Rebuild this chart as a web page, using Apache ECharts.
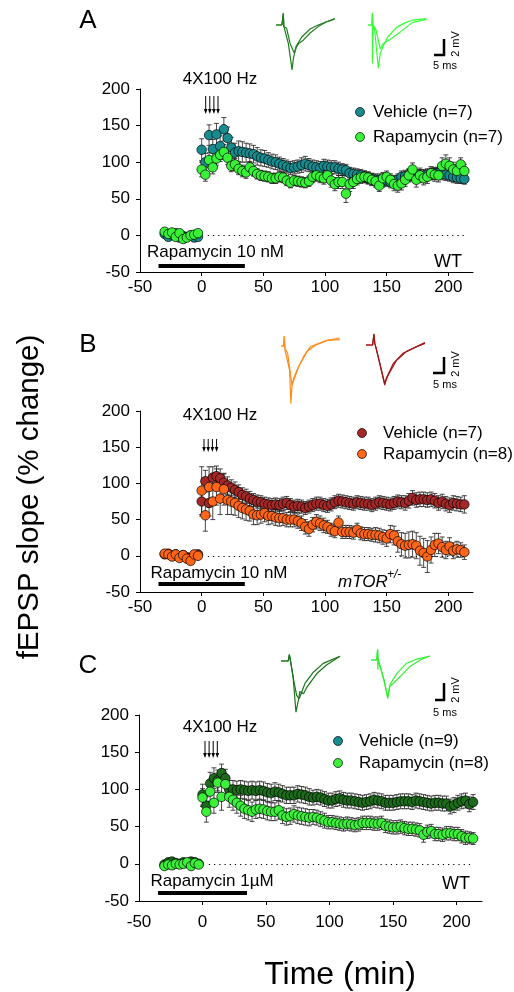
<!DOCTYPE html>
<html><head><meta charset="utf-8">
<script src="https://cdn.jsdelivr.net/npm/echarts@6/dist/echarts.min.js"></script>
<style>html,body{margin:0;padding:0;background:#fff}#c{width:514px;height:992px}</style>
</head><body><div id="c"></div>
<script>
// ---------- data ----------
const xTickLabels = [-50, 0, 50, 100, 150, 200];
const yTickLabels = [-50, 0, 50, 100, 150, 200];
const baseTimes = [-30,-27,-24,-21,-18,-15,-12,-9,-6,-3];
const postTimes = [0,3,6,9,12,15,18,21,24,27,30,33,
  36,39,42,45,48,51,54,57,60,63,66,69,
  72,75,78,81,84,87,90,93,96,99,102,105,
  108,111,114,117,120,123,126,129,132,135,138,141,
  144,147,150,153,156,159,162,165,168,171,174,177,
  180,183,186,189,192,195,198,201,204,207,210,213];
const baseErr = [2,2,2,2,2,2,2,2,2,2];

// Panel A (WT, 10 nM)
const vehA_base = [2,-2,1,3,-3,-1,-2,0,-3,-2];
const vehA = [117,100,137,118,138,122,145,133,120,113,115,114,
  113,112,111,108,106,105,103,101,100,98,96,94,
  92,93,94,96,98,96,94,93,92,95,94,93,
  93,91,90,89,85,84,83,82,80,78,77,76,
  76,74,75,73,74,76,80,81,82,83,82,82,
  82,83,84,85,85,84,83,82,80,79,78,77];
const vehA_err = [15,12,14,13,15,14,16,15,14,13,14,14,
  13,13,12,12,11,11,10,10,10,9,9,9,
  9,9,9,10,10,9,9,9,9,9,9,9,
  9,9,8,8,8,8,8,8,8,8,8,8,
  8,8,8,8,8,8,8,8,8,8,8,8,
  8,8,8,8,8,8,8,8,8,8,7,7];
const rapA_base = [5,2,4,-2,3,-5,-3,0,1,3];
const rapA = [90,83,103,93,105,110,114,106,95,97,91,88,
  86,93,88,84,82,81,80,78,78,80,79,75,
  72,75,74,73,72,74,80,82,80,78,82,75,
  70,73,73,57,70,73,77,79,80,79,76,74,
  68,78,80,76,70,68,71,76,82,90,76,82,
  78,80,85,83,82,95,98,95,90,88,97,88];
const rapA_err = [10,9,10,9,9,9,10,9,8,8,8,8,
  8,8,7,7,7,7,7,7,7,7,7,7,
  7,7,7,7,7,7,8,8,8,8,9,9,
  9,9,9,12,10,9,8,8,8,8,8,8,
  8,8,8,8,9,9,9,9,9,9,10,10,
  9,9,9,9,9,11,12,11,10,9,9,9];

// Panel B (mTOR+/-, 10 nM)
const vehB_base = [2,3,0,2,-1,1,-2,-3,1,2];
const vehB = [75,103,73,108,110,107,101,97,94,91,88,84,
  82,79,77,75,74,72,71,70,71,70,72,73,
  70,68,69,68,66,68,70,72,72,70,69,71,
  74,76,75,74,73,72,74,73,72,72,70,72,
  74,73,72,71,73,75,74,73,76,80,77,78,
  78,77,78,76,73,75,72,70,73,72,71,71];
const vehB_err = [20,15,18,15,14,13,12,12,11,11,10,10,
  10,10,9,9,9,9,9,9,9,9,9,9,
  9,9,9,9,9,9,9,9,9,9,9,9,
  9,9,9,9,9,9,9,9,9,9,9,9,
  9,9,9,9,9,9,9,10,10,10,10,10,
  10,10,10,10,10,10,10,10,10,10,10,12];
const rapB_base = [3,2,-1,2,-3,1,-4,-7,2,0];
const rapB = [90,56,95,75,95,79,92,77,75,73,69,66,
  64,62,57,56,57,59,55,55,53,52,52,50,
  50,50,48,45,40,37,43,47,45,42,40,36,
  34,46,33,33,33,32,36,31,30,30,29,29,
  28,26,24,30,28,20,16,14,15,16,14,7,
  4,-1,8,15,17,12,8,13,7,9,8,5];
const rapB_err = [33,22,28,25,25,22,22,20,18,17,16,15,
  15,14,14,13,12,12,12,11,11,11,10,10,
  10,10,10,10,10,10,10,10,10,10,9,9,
  9,9,9,9,9,9,9,9,9,9,9,10,
  10,10,11,12,13,15,16,17,18,18,18,20,
  20,22,18,16,14,14,12,12,11,11,10,10];

// Panel C (WT, 1 uM)
const vehC_base = [-1,2,3,1,0,2,1,3,2,0];
const vehC = [93,78,108,115,112,122,115,100,100,99,100,99,
  98,99,98,99,98,96,95,97,96,94,92,92,
  92,94,93,92,90,89,90,89,87,85,85,87,
  88,86,85,85,84,83,82,83,84,86,85,84,
  82,82,82,83,84,84,84,83,85,84,83,82,
  81,82,82,81,81,77,79,82,84,85,80,83];
const vehC_err = [14,12,15,14,14,12,12,12,12,12,12,12,
  12,12,12,12,12,12,12,12,11,11,11,11,
  11,11,11,11,11,10,10,10,10,10,10,10,
  10,10,10,10,10,10,10,10,10,10,10,10,
  10,10,10,10,10,10,10,10,10,10,10,10,
  10,10,10,10,10,10,10,10,10,10,10,10];
const rapC_base = [-3,-1,-2,0,-1,0,2,-3,1,-1];
const rapC = [89,70,97,82,109,90,107,90,86,82,78,74,
  72,70,73,74,73,71,70,70,72,65,63,64,
  67,65,64,63,62,63,62,60,58,56,56,55,
  54,53,54,53,52,53,55,55,55,54,54,55,
  51,50,49,49,50,48,47,47,46,45,39,43,
  44,40,40,39,41,41,40,40,37,35,35,34];
const rapC_err = [12,14,13,14,13,18,13,14,14,14,14,13,
  13,13,12,12,12,12,12,12,12,11,11,11,
  11,11,11,11,11,10,10,10,10,9,9,9,
  9,9,9,9,9,9,9,9,9,9,9,9,
  9,9,9,9,9,9,9,9,9,9,10,9,
  9,9,9,9,9,9,9,9,9,9,8,8];

// fEPSP sample traces [ms, mV]
const trA1a = [[0,0],[2.7,0],[3.3,1.5],[3.6,-0.2],[4.5,-0.2],[5.6,-2.3],[7.3,-5.6],[7.9,-4.2],[9.1,-2.7],[11.7,-1.5],[15.5,-0.5],[19.2,0],[23,0.4],[26.8,0.8]];
const trA1b = [[0,0],[2.7,0],[3.3,1.4],[3.6,-0.2],[4.8,-0.4],[6.4,-2.3],[8.3,-3.5],[9.4,-2.7],[10.3,-2.3],[12.4,-1.9],[15.5,-1.0],[19.2,-0.2],[23,0.4],[26.4,0.7]];
const trA2a = [[0,0],[1.8,0],[2.0,1.5],[2.0,-4.8],[2.3,0],[3.0,-0.5],[4.7,-5.4],[5.6,-3.5],[6.8,-2.7],[9,-1.5],[13,-0.3],[17,0.3],[20,0.6],[26.5,0.8]];
const trA2b = [[0,0],[1.8,0],[2.0,1.5],[2.3,0],[3.5,-0.5],[5.6,-3.0],[7,-2.3],[10,-1.8],[15,-0.8],[20,0.3],[26.5,0.7]];
const trB1a = [[0,0],[1.2,0],[1.5,1.2],[1.8,-0.5],[2.7,-0.3],[3.9,-3],[4.5,-7.2],[5,-4.9],[5.8,-4.0],[7.3,-3.0],[10.3,-1.3],[13.3,-0.1],[17,0.3],[20.9,0.7],[26.7,1.0]];
const trB1b = [[0,0],[1.2,0],[1.5,1.2],[1.8,-0.3],[3,-0.9],[5,-4.9],[5.8,-4.3],[8,-2.6],[11.8,-0.7],[15.6,0.1],[20.9,0.7],[26.7,0.8]];
const trB2a = [[0,0],[3,0],[3.6,1.4],[4,0.2],[4.5,-0.3],[6,-2],[8.5,-5],[9.2,-4.2],[12.4,-2.3],[17,-1.0],[21.5,-0.4],[26.8,0.3]];
const trB2b = [[0,0],[3,0],[3.6,1.3],[4,0.2],[4.5,-0.3],[6,-2],[8.5,-4.8],[10,-3.8],[13.9,-1.9],[18.5,-0.8],[23,-0.2],[26.8,0.2]];
const trC1a = [[0,0],[3.3,0],[3.8,0.8],[4.4,-0.1],[5.5,-2],[6.8,-6.4],[7.9,-4.9],[8.6,-3.8],[9.4,-3.7],[10.2,-4.1],[11.7,-3.3],[16.2,-1.6],[20.7,-0.5],[26.8,0.6]];
const trC1b = [[0,0],[3.3,0],[3.8,0.8],[4.4,-0.1],[5.5,-2],[7.1,-4.3],[8.3,-4.7],[9.4,-3.9],[10.9,-2.8],[14.7,-1.4],[19.2,-0.3],[26.8,0.6]];
const trC2a = [[0,0],[2.6,0],[3,1.3],[3.1,-1.2],[3.3,0],[4.1,-0.1],[5.9,-2.5],[7.6,-4.8],[8.6,-3.3],[10.2,-2.9],[13.2,-2.1],[17.7,-0.8],[22.3,0],[26.8,0.5]];
const trC2b = [[0,0],[2.6,0],[3,1.3],[3.3,0],[4.1,-0.1],[5.9,-2.5],[7.6,-4.6],[8.6,-3.1],[11.7,-1.7],[16.2,-0.4],[20.7,0.1],[26.8,0.5]];

// ---------- chart ----------
const FONT = '"Liberation Sans", Arial, Helvetica, sans-serif';
const chart = echarts.init(document.getElementById('c'), null, {renderer: 'canvas'});

const panels = [
  {grid:{left:140, top:89, width:333, height:183}, lblMargin:7, barY:-41,
   veh:{name:'Vehicle (n=7)', base:vehA_base, post:vehA, err:vehA_err, color:'#178c8f'},
   rap:{name:'Rapamycin (n=7)', base:rapA_base, post:rapA, err:rapA_err, color:'#38f238'}},
  {grid:{left:140, top:411, width:333, height:181}, lblMargin:7, barY:-39,
   veh:{name:'Vehicle (n=7) ', base:vehB_base, post:vehB, err:vehB_err, color:'#a52828'},
   rap:{name:'Rapamycin (n=8)', base:rapB_base, post:rapB, err:rapB_err, color:'#ff6619'}},
  {grid:{left:139, top:715, width:343, height:186}, lblMargin:13, barY:-39,
   veh:{name:'Vehicle (n=9)', base:vehC_base, post:vehC, err:vehC_err, color:'#1c6c1c'},
   rap:{name:'Rapamycin (n=8) ', base:rapC_base, post:rapC, err:rapC_err, color:'#3cf03c'}}
];
const traces = [
  {grid:{left:276, top:9}, lines:[trA1a, trA1b], color:'#1e7e1e'},
  {grid:{left:368, top:9}, lines:[trA2a, trA2b], color:'#33ff33'},
  {grid:{left:281, top:330}, lines:[trB1a, trB1b], color:'#ff8c1a'},
  {grid:{left:366, top:329}, lines:[trB2a, trB2b], color:'#a01515'},
  {grid:{left:281, top:645}, lines:[trC1a, trC1b], color:'#1a731a'},
  {grid:{left:371, top:644}, lines:[trC2a, trC2b], color:'#33ee33'}
];

const allTimes = baseTimes.concat(postTimes);
function seriesData(s) {
  const v = s.base.concat(s.post);
  const e = baseErr.concat(s.err);
  return allTimes.map((t, i) => [t, v[i], e[i]]);
}
function errRender(params, api) {
  const x = api.value(0), y = api.value(1), e = api.value(2);
  const top = api.coord([x, y + e]);
  const bot = api.coord([x, y - e]);
  const hw = 2.5;
  const st = {stroke:'#1a1a1a', lineWidth:0.8};
  return {type:'group', children:[
    {type:'line', shape:{x1:top[0], y1:top[1], x2:bot[0], y2:bot[1]}, style:st},
    {type:'line', shape:{x1:top[0]-hw, y1:top[1], x2:top[0]+hw, y2:top[1]}, style:st},
    {type:'line', shape:{x1:bot[0]-hw, y1:bot[1], x2:bot[0]+hw, y2:bot[1]}, style:st}
  ]};
}

const grids = [], xAxes = [], yAxes = [], series = [];
panels.forEach((p, i) => {
  grids.push(p.grid);
  xAxes.push({gridIndex:i, type:'value', min:-50, max:220, interval:50,
    axisLine:{show:true, onZero:false, lineStyle:{color:'#000', width:1}},
    axisTick:{show:true, length:4, lineStyle:{color:'#000'}, customValues:[0,50,100,150,200]},
    axisLabel:{color:'#000', fontSize:17, fontFamily:FONT, margin:p.lblMargin, customValues:xTickLabels,
      formatter: v => (v % 50 === 0 ? String(v) : '')},
    splitLine:{show:false}});
  yAxes.push({gridIndex:i, type:'value', min:-50, max:200, interval:50,
    axisLine:{show:true, onZero:false, lineStyle:{color:'#000', width:1}},
    axisTick:{show:true, length:4, lineStyle:{color:'#000'}},
    axisLabel:{color:'#000', fontSize:17, fontFamily:FONT, margin:10},
    splitLine:{show:false}});
  [p.veh, p.rap].forEach((s, k) => {
    const data = seriesData(s);
    series.push({type:'custom', xAxisIndex:i, yAxisIndex:i, renderItem:errRender,
      data:data, encode:{x:0, y:1}, silent:true, clip:false});
    const sc = {type:'scatter', name:s.name, xAxisIndex:i, yAxisIndex:i, data:data.map(d => [d[0], d[1]]),
      symbol:'circle', symbolSize:9.5, silent:true,
      itemStyle:{color:s.color, borderColor:'#000', borderWidth:0.7, opacity:1}};
    if (k === 0) {
      sc.markLine = {silent:true, symbol:['none','none'], label:{show:false}, animation:false,
        data:[
          [{coord:[5,0], lineStyle:{type:[1.2,4], color:'#000', width:1.1}}, {coord:[213,0]}],
          [{coord:[-35,p.barY], lineStyle:{type:'solid', color:'#000', width:4}}, {coord:[35,p.barY]}]
        ]};
    }
    series.push(sc);
  });
});
traces.forEach((tr, j) => {
  const gi = 3 + j;
  grids.push({left:tr.grid.left, top:tr.grid.top, width:59.4, height:80});
  xAxes.push({gridIndex:gi, type:'value', min:0, max:27, show:false});
  yAxes.push({gridIndex:gi, type:'value', min:-8, max:2, show:false});
  tr.lines.forEach(l => series.push({type:'line', xAxisIndex:gi, yAxisIndex:gi, data:l,
    showSymbol:false, silent:true, lineStyle:{color:tr.color, width:1.2}}));
});

// ---------- annotations ----------
function txt(text, x, y, size, opts) {
  return Object.assign({type:'text', x:x, y:y, silent:true,
    style:Object.assign({text:text, font:size + 'px ' + FONT, fill:'#000',
      textAlign:'left', textVerticalAlign:'middle'}, (opts && opts.style) || {})},
    (opts && opts.el) || {});
}
function arrows(xs, y1, y2) {
  return xs.map(x => ({type:'group', silent:true, children:[
    {type:'line', shape:{x1:x, y1:y1, x2:x, y2:y2-3}, style:{stroke:'#000', lineWidth:1}},
    {type:'polygon', shape:{points:[[x-1.8, y2-5],[x+1.8, y2-5],[x, y2]]}, style:{fill:'#000'}}
  ]}));
}
function legendItem(cx, cy, color, label, tx) {
  return [{type:'circle', shape:{cx:cx, cy:cy, r:4.5}, silent:true,
      style:{fill:color, stroke:'#000', lineWidth:0.7}},
    txt(label, tx, cy, 17)];
}
function scaleBar(x, yTop, yBot, xLeft, mvY, msY) {
  return [
    {type:'line', silent:true, shape:{x1:x, y1:yTop, x2:x, y2:yBot}, style:{stroke:'#000', lineWidth:2.5}},
    {type:'line', silent:true, shape:{x1:xLeft, y1:yBot, x2:x+1.2, y2:yBot}, style:{stroke:'#000', lineWidth:2.5}},
    txt('2 mV', 456, mvY, 11, {style:{textAlign:'center'}, el:{rotation:Math.PI/2}}),
    txt('5 ms', 445, msY, 11, {style:{textAlign:'center'}})
  ];
}

let g = [];
g.push(txt('A', 88, 21, 26, {style:{textAlign:'center'}}));
g.push(txt('B', 88, 345, 26, {style:{textAlign:'center'}}));
g.push(txt('C', 88, 666, 26, {style:{textAlign:'center'}}));
g.push(txt('fEPSP slope (% change)', 30, 497, 29.5, {style:{textAlign:'center'}, el:{rotation:Math.PI/2}}));
g.push(txt('Time (min)', 340, 975, 32, {style:{textAlign:'center'}}));
// stimulation labels
g.push(txt('4X100 Hz', 220, 79, 17, {style:{textAlign:'center'}}));
g.push(txt('4X100 Hz', 220, 415.5, 17, {style:{textAlign:'center'}}));
g.push(txt('4X100 Hz', 220, 727.5, 17, {style:{textAlign:'center'}}));
g = g.concat(arrows([205.7, 209.8, 213.9, 218], 96, 114));
g = g.concat(arrows([204, 208.2, 212.4, 216.6], 439, 452));
g = g.concat(arrows([205, 209.1, 213.2, 217.3], 741, 758));
// drug labels
g.push(txt('Rapamycin 10 nM', 147, 252, 17));
g.push(txt('Rapamycin 10 nM', 150.5, 573, 17));
g.push(txt('Rapamycin 1\u00b5M', 150.5, 881, 17));
g.push(txt('WT', 448, 262, 18, {style:{textAlign:'center'}}));
g.push(txt('WT', 456, 884, 18, {style:{textAlign:'center'}}));
g.push(txt('mTOR', 338, 582, 17, {style:{font:'italic 17px ' + FONT}}));
g.push(txt('+/-', 387, 575, 12, {style:{font:'italic 12px ' + FONT}}));
// legends
g = g.concat(legendItem(360, 112, '#178c8f', 'Vehicle (n=7)', 373));
g = g.concat(legendItem(360, 137, '#38f238', 'Rapamycin (n=7)', 373));
g = g.concat(legendItem(362, 433, '#a52828', 'Vehicle (n=7)', 383));
g = g.concat(legendItem(362, 454, '#ff6619', 'Rapamycin (n=8)', 383));
g = g.concat(legendItem(338, 741, '#178c8f', 'Vehicle (n=9)', 359));
g = g.concat(legendItem(338, 763, '#3cf03c', 'Rapamycin (n=8)', 359));
// scale bars
g = g.concat(scaleBar(444, 39, 55, 434, 44, 66));
g = g.concat(scaleBar(444, 357, 373, 433, 364, 385));
g = g.concat(scaleBar(444, 683, 700, 435, 690, 713));

chart.setOption({
  animation:false,
  backgroundColor:'#fff',
  textStyle:{fontFamily:FONT},
  grid:grids, xAxis:xAxes, yAxis:yAxes, series:series,
  graphic:{elements:g}
});
</script></body></html>
